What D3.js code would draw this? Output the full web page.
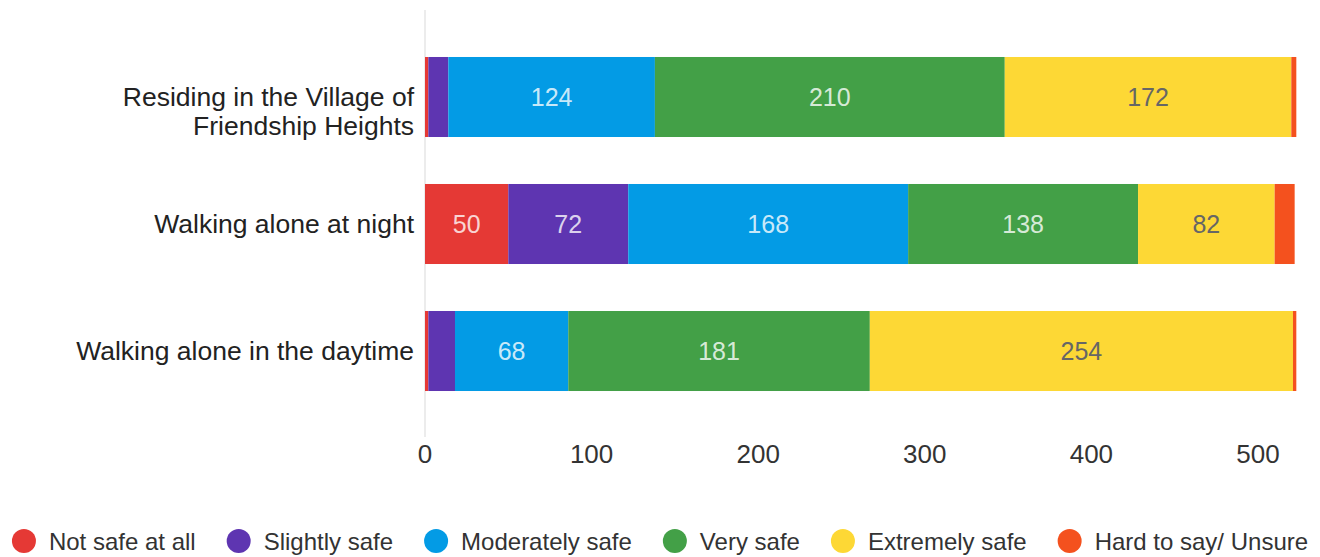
<!DOCTYPE html>
<html><head><meta charset="utf-8">
<script src="https://cdn.jsdelivr.net/npm/d3@7"></script>
<style>body{margin:0;background:#fff;font-family:"Liberation Sans",Arial,sans-serif;}</style>
</head><body><svg id="c" width="1320" height="557"></svg>
<script>
const categories = ["Residing in the Village of|Friendship Heights","Walking alone at night","Walking alone in the daytime"];
const seriesNames = ["Not safe at all","Slightly safe","Moderately safe","Very safe","Extremely safe","Hard to say/ Unsure"];
const notSafe = [2, 50, 2];
const slightlySafe = [12, 72, 16];
const moderatelySafe = [124, 168, 68];
const verySafe = [210, 138, 181];
const extremelySafe = [172, 82, 254];
const hardToSay = [3, 12, 2];
const colors = ["#e53935","#5e35b1","#039be5","#43a047","#fdd835","#f4511e"];
const tickValues = [0,100,200,300,400,500];
const labelMin = 30;

const series = [notSafe, slightlySafe, moderatelySafe, verySafe, extremelySafe, hardToSay];
const svg = d3.select("#c");
const x = d3.scaleLinear().domain([0,500]).range([425,1258]);
const y = d3.scaleBand().domain(categories).range([10,438]).padding(0.37);

// axis line
svg.append("line").attr("x1",x(0)).attr("x2",x(0)).attr("y1",10).attr("y2",437)
  .attr("stroke","#e6e6e6").attr("stroke-width",1.5);

const rows = categories.map((c,i)=>{
  const vals = series.map(s=>s[i]);
  let acc=0; return vals.map((v,j)=>{const o={cat:c,v,j,x0:acc,x1:acc+v}; acc+=v; return o;});
}).flat();

svg.append("g").selectAll("rect").data(rows).join("rect")
  .attr("x",d=>x(d.x0)).attr("width",d=>x(d.x1)-x(d.x0))
  .attr("y",d=>y(d.cat)).attr("height",y.bandwidth())
  .attr("fill",d=>colors[d.j]);

svg.append("g").selectAll("text").data(rows.filter(d=>d.v>=labelMin)).join("text")
  .attr("x",d=>(x(d.x0)+x(d.x1))/2).attr("y",d=>y(d.cat)+y.bandwidth()/2)
  .attr("dy","0.35em").attr("text-anchor","middle")
  .attr("font-size",25)
  .attr("fill",d=>d.j===4?"#666":"rgba(255,255,255,0.8)")
  .text(d=>d.v);

// category labels
const cl = svg.append("g");
categories.forEach(c=>{
  const lines = c.split("|");
  const cy = y(c)+y.bandwidth()/2;
  const t = cl.append("text").attr("text-anchor","end").attr("font-size",26.5).attr("fill","#222");
  lines.forEach((ln,k)=>{
    t.append("tspan").attr("x",414).attr("y",cy+k*29).attr("dy","0.35em").text(ln);
  });
});

// x ticks
svg.append("g").selectAll("text").data(tickValues).join("text")
  .attr("x",d=>x(d)).attr("y",454).attr("dy","0.35em").attr("text-anchor","middle")
  .attr("font-size",26).attr("fill","#333").text(d=>d);

// legend
const lg = svg.append("g");
let cx = 0;
seriesNames.forEach((n,i)=>{
  const g = lg.append("g").attr("transform",`translate(${cx},0)`);
  g.append("circle").attr("cx",12).attr("cy",541).attr("r",12).attr("fill",colors[i]);
  const t = g.append("text").attr("x",37).attr("y",542).attr("dy","0.35em").attr("font-size",24).attr("fill","#333").text(n);
  cx += 37 + t.node().getComputedTextLength() + 31;
});
const totalW = cx - 31;
lg.attr("transform",`translate(${660-totalW/2},0)`);
</script></body></html>
